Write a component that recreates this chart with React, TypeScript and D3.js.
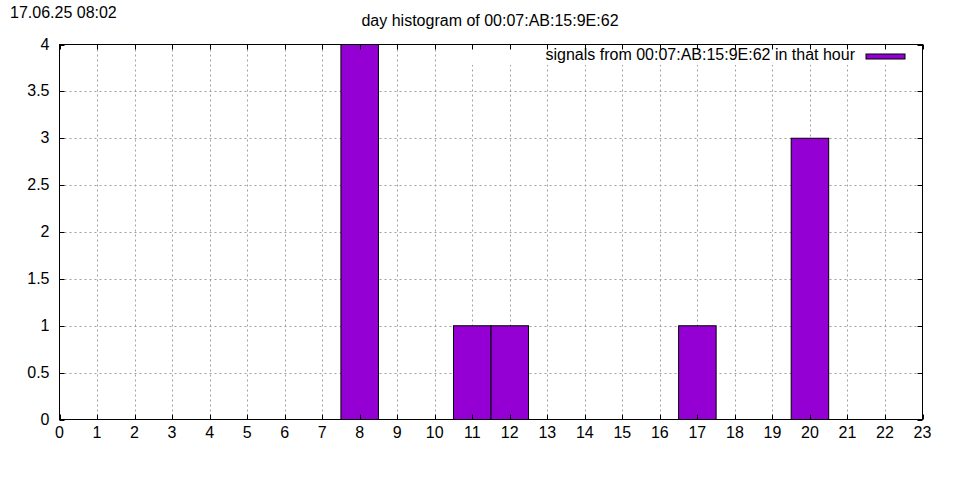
import React from "react";
import * as d3 from "d3";

const hours = [0, 1, 2, 3, 4, 5, 6, 7, 8, 9, 10, 11, 12, 13, 14, 15, 16, 17, 18, 19, 20, 21, 22, 23];
const counts = [0, 0, 0, 0, 0, 0, 0, 0, 4, 0, 0, 1, 1, 0, 0, 0, 0, 1, 0, 0, 3, 0, 0, 0];
const yTicks = [0, 0.5, 1, 1.5, 2, 2.5, 3, 3.5, 4];
const xTicks = hours;
const titleText = "day histogram of 00:07:AB:15:9E:62";
const stampText = "17.06.25 08:02";
const legendText = "signals from 00:07:AB:15:9E:62 in that hour";

const W = 960, H = 480;
const L = 59.5, R = 922.5, T = 44.5, B = 419.5;
const FONT = "'Liberation Sans', Arial, sans-serif";
const FS = 16;
const COLOR = "#9400d3";

export default function App() {
  const x = d3.scaleLinear().domain([0, 23]).range([L, R]);
  const y = d3.scaleLinear().domain([0, 4]).range([B, T]);
  const fmt = (v: number) => String(v);
  const bars = hours.map((h, i) => ({ h, c: counts[i] })).filter((d) => d.c > 0);
  return (
    <svg width={W} height={H} style={{ position: "absolute", left: 0, top: 0, background: "#fff" }} fontFamily={FONT} fontSize={FS}>
      <rect x={0} y={0} width={W} height={H} fill="#fff" />
      {/* grid */}
      <g stroke="#a0a0a0" strokeWidth={1} strokeDasharray="2,3">
        {xTicks.slice(1, -1).map((t) => (
          <line key={"gx" + t} x1={Math.round(x(t)) + 0.5} x2={Math.round(x(t)) + 0.5} y1={T} y2={B} />
        ))}
        {yTicks.slice(1, -1).map((t) => (
          <line key={"gy" + t} x1={L} x2={R} y1={Math.round(y(t)) + 0.5} y2={Math.round(y(t)) + 0.5} />
        ))}
      </g>
      {/* bars */}
      {bars.map((d) => (
        <rect key={"b" + d.h} x={x(d.h - 0.5)} y={y(d.c)} width={x(d.h + 0.5) - x(d.h - 0.5)} height={y(0) - y(d.c)} fill={COLOR} stroke="#000" strokeWidth={1} />
      ))}
      {/* legend background */}
      <rect x={466} y={T + 0.5} width={449} height={20} fill="#fff" />
      {/* ticks */}
      <g stroke="#000" strokeWidth={1}>
        {xTicks.map((t) => {
          const px = Math.round(x(t)) + 0.5;
          return (
            <g key={"tx" + t}>
              <line x1={px} x2={px} y1={B} y2={B - 5} />
              <line x1={px} x2={px} y1={T} y2={T + 5} />
            </g>
          );
        })}
        {yTicks.map((t) => {
          const py = Math.round(y(t)) + 0.5;
          return (
            <g key={"ty" + t}>
              <line x1={L} x2={L + 5} y1={py} y2={py} />
              <line x1={R} x2={R - 5} y1={py} y2={py} />
            </g>
          );
        })}
      </g>
      {/* frame */}
      <rect x={L} y={T} width={R - L} height={B - T} fill="none" stroke="#000" strokeWidth={1} />
      {/* tick labels */}
      {xTicks.map((t) => (
        <text key={"lx" + t} x={x(t)} y={B + 18} textAnchor="middle" fill="#000">{fmt(t)}</text>
      ))}
      {yTicks.map((t) => (
        <text key={"ly" + t} x={L - 10} y={y(t) + 5} textAnchor="end" fill="#000">{fmt(t)}</text>
      ))}
      {/* title & stamp */}
      <text x={490} y={26} textAnchor="middle" fill="#000">{titleText}</text>
      <text x={10} y={18} fill="#000">{stampText}</text>
      {/* legend */}
      <text x={855} y={60} textAnchor="end" fill="#000">{legendText}</text>
      <rect x={866} y={54} width={39} height={5} fill={COLOR} stroke="#000" strokeWidth={1} />
    </svg>
  );
}
